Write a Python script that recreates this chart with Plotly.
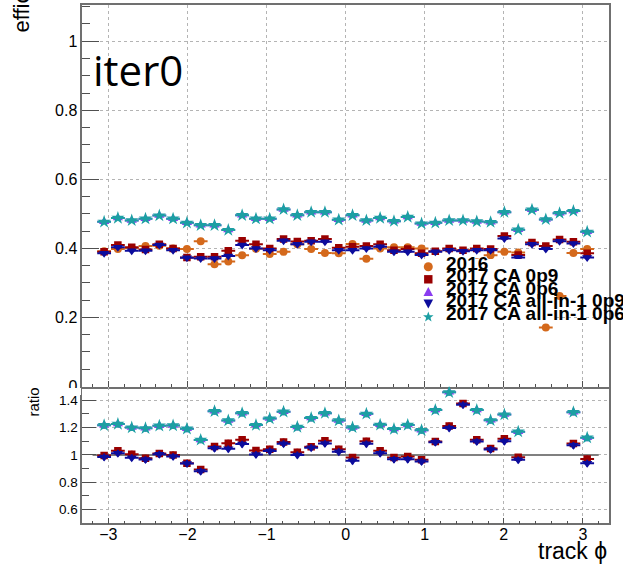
import math
import plotly.graph_objects as go

W, H = 623, 568

# ---------------- data ----------------
phi = [-3.054, -2.880, -2.705, -2.531, -2.356, -2.182, -2.007, -1.833, -1.658,
       -1.484, -1.309, -1.134, -0.960, -0.785, -0.611, -0.436, -0.262, -0.087,
       0.087, 0.262, 0.436, 0.611, 0.785, 0.960, 1.134, 1.309, 1.484, 1.658,
       1.833, 2.007, 2.182, 2.356, 2.531, 2.705, 2.880, 3.054]

eff_2016 = [0.392, 0.398, 0.401, 0.407, 0.408, 0.400, 0.398, 0.421, 0.354,
            0.362, 0.380, 0.399, 0.384, 0.390, 0.412, 0.398, 0.387, 0.386,
            0.413, 0.370, 0.400, 0.403, 0.403, 0.400, 0.357, 0.330, 0.287, 0.360,
            0.380, 0.390, 0.388, 0.250, 0.171, 0.262, 0.387, 0.398]

eff_ca_0p9 = [0.390, 0.410, 0.403, 0.397, 0.412, 0.400, 0.374, 0.376, 0.376,
              0.393, 0.422, 0.412, 0.400, 0.427, 0.420, 0.422, 0.427, 0.402,
              0.405, 0.407, 0.412, 0.395, 0.398, 0.386, 0.392, 0.400, 0.395, 0.400,
              0.398, 0.436, 0.381, 0.417, 0.407, 0.426, 0.419, 0.386]

eff_ca_0p6 = [0.477, 0.488, 0.481, 0.486, 0.495, 0.486, 0.474, 0.467, 0.467,
              0.453, 0.496, 0.486, 0.486, 0.513, 0.496, 0.505, 0.505, 0.483,
              0.496, 0.481, 0.488, 0.479, 0.491, 0.472, 0.474, 0.481, 0.481, 0.478,
              0.476, 0.505, 0.454, 0.512, 0.484, 0.502, 0.508, 0.448]

eff_a1_0p9 = [0.386, 0.403, 0.393, 0.393, 0.410, 0.395, 0.373, 0.371, 0.371,
              0.378, 0.410, 0.400, 0.395, 0.422, 0.412, 0.419, 0.419, 0.395,
              0.395, 0.400, 0.405, 0.390, 0.390, 0.381, 0.390, 0.395, 0.392, 0.395,
              0.395, 0.429, 0.374, 0.412, 0.398, 0.421, 0.414, 0.374]

eff_a1_0p6 = [0.477, 0.488, 0.481, 0.486, 0.495, 0.486, 0.474, 0.467, 0.467,
              0.453, 0.496, 0.486, 0.486, 0.513, 0.496, 0.505, 0.505, 0.483,
              0.496, 0.481, 0.488, 0.479, 0.491, 0.472, 0.474, 0.481, 0.481, 0.478,
              0.476, 0.505, 0.454, 0.512, 0.484, 0.502, 0.508, 0.448]

names = ["2016", "2017 CA 0p9", "2017 CA 0p6", "2017 CA all-in-1 0p9", "2017 CA all-in-1 0p6"]
series = [eff_2016, eff_ca_0p9, eff_ca_0p6, eff_a1_0p9, eff_a1_0p6]
colors = ["#d4691c", "#990000", "#8a3cf0", "#0c0c9c", "#1c9fa3"]
symbols = ["circle", "square", "triangle-up", "triangle-down", "star"]
sizes = [8, 7.5, 9, 9, 10]

half_bin = math.pi / 36

# ---------------- geometry helpers (pixels -> paper) ----------------
def PX(x):
    return x / W

def PY(y):
    return 1 - y / H

x_dom = [PX(82.3), PX(609)]
top_dom = [PY(386.5), PY(5)]
bot_dom = [PY(523.3), PY(386.5)]

fig = go.Figure()

# top panel
for nm, vals, c, s, sz in zip(names, series, colors, symbols, sizes):
    fig.add_trace(go.Scatter(
        x=phi, y=vals, mode="markers", name=nm, showlegend=False,
        marker=dict(symbol=s, size=sz, color=c, line=dict(width=0)),
        error_x=dict(type="constant", value=half_bin, color=c, thickness=2, width=0),
        error_y=dict(type="constant", value=0.006, color=c, thickness=2, width=0),
        xaxis="x", yaxis="y"))

# ratio panel (each 2017 series / 2016)
for nm, vals, c, s, sz in list(zip(names, series, colors, symbols, sizes))[1:]:
    ratio = [v / r for v, r in zip(vals, eff_2016)]
    fig.add_trace(go.Scatter(
        x=phi, y=ratio, mode="markers", name=nm + " ratio", showlegend=False,
        marker=dict(symbol=s, size=sz, color=c, line=dict(width=0)),
        error_x=dict(type="constant", value=half_bin, color=c, thickness=2, width=0),
        error_y=dict(type="constant", value=0.025, color=c, thickness=2, width=0),
        xaxis="x2", yaxis="y2"))

axis_common = dict(showline=True, mirror=True, linecolor="#707070", linewidth=1.5,
                   showgrid=True, gridcolor="#b4b4b4", griddash="dot", gridwidth=1,
                   zeroline=False, ticks="inside", tickcolor="#505050", automargin=False,
                   tickfont=dict(family="Liberation Sans", size=16, color="black"))

fig.update_layout(
    width=W, height=H, margin=dict(l=0, r=0, t=0, b=0, autoexpand=False),
    paper_bgcolor="white", plot_bgcolor="white", showlegend=False,
    xaxis=dict(axis_common, domain=x_dom, range=[-3.33, 3.33], anchor="y",
               dtick=1, tick0=0, ticklen=6, showticklabels=False,
               minor=dict(dtick=0.2, ticklen=3, ticks="inside", tickcolor="#505050", showgrid=False)),
    yaxis=dict(axis_common, domain=top_dom, range=[0, 1.105], anchor="x",
               dtick=0.2, tick0=0, ticklen=17,
               minor=dict(dtick=0.05, ticklen=8, ticks="inside", tickcolor="#505050", showgrid=False)),
    xaxis2=dict(axis_common, domain=x_dom, range=[-3.33, 3.33], anchor="y2",
                dtick=1, tick0=0, ticklen=6, mirror=False, ticklabelstandoff=-4,
                minor=dict(dtick=0.2, ticklen=3, ticks="inside", tickcolor="#505050", showgrid=False)),
    yaxis2=dict(axis_common, domain=bot_dom, range=[0.5, 1.5], anchor="x2",
                dtick=0.2, tick0=0, ticklen=14,
                tickfont=dict(family="Liberation Sans", size=13.5, color="black"),
                minor=dict(dtick=0.1, ticklen=7, ticks="inside", tickcolor="#505050", showgrid=False)),
)

shapes = []
# unity line in ratio panel
shapes.append(dict(type="line", xref="x2", yref="y2", x0=-3.2, x1=3.2, y0=1, y1=1,
                   line=dict(color="#808080", width=2), layer="between"))

# lower pad covers the bottom half of the top pad's "0" label
shapes.append(dict(type="rect", xref="paper", yref="paper",
                   x0=PX(0), x1=PX(81), y0=PY(395), y1=PY(388),
                   fillcolor="white", line=dict(width=0), layer="above"))

# legend box (white fill, no border)
shapes.append(dict(type="rect", xref="paper", yref="paper",
                   x0=PX(424), x1=PX(556), y0=PY(322), y1=PY(259),
                   fillcolor="white", line=dict(width=0), layer="above"))

# legend markers
mx = 428.3
row_marker_y = [266.7, 279.3, 292.0, 303.5, 317.0]
row_text_y = [263.0, 275.6, 288.2, 300.8, 313.4]

def ppath(pts):
    return "M " + " L ".join(f"{PX(a):.5f},{PY(b):.5f}" for a, b in pts) + " Z"

cy = row_marker_y[0]
shapes.append(dict(type="circle", xref="paper", yref="paper",
                   x0=PX(mx - 4.5), x1=PX(mx + 4.5), y0=PY(cy + 4.5), y1=PY(cy - 4.5),
                   fillcolor=colors[0], line=dict(width=0), layer="above"))
cy = row_marker_y[1]
shapes.append(dict(type="rect", xref="paper", yref="paper",
                   x0=PX(mx - 4.2), x1=PX(mx + 4.2), y0=PY(cy + 4.2), y1=PY(cy - 4.2),
                   fillcolor=colors[1], line=dict(width=0), layer="above"))
cy = row_marker_y[2]
shapes.append(dict(type="path", xref="paper", yref="paper",
                   path=ppath([(mx - 4.8, cy + 4), (mx + 4.8, cy + 4), (mx, cy - 5)]),
                   fillcolor=colors[2], line=dict(width=0), layer="above"))
cy = row_marker_y[3]
shapes.append(dict(type="path", xref="paper", yref="paper",
                   path=ppath([(mx - 4.8, cy - 4), (mx + 4.8, cy - 4), (mx, cy + 5)]),
                   fillcolor=colors[3], line=dict(width=0), layer="above"))
cy = row_marker_y[4]
pts = []
for k in range(10):
    r = 5.5 if k % 2 == 0 else 2.3
    a = -math.pi / 2 + k * math.pi / 5
    pts.append((mx + r * math.cos(a), cy + r * math.sin(a)))
shapes.append(dict(type="path", xref="paper", yref="paper", path=ppath(pts),
                   fillcolor=colors[4], line=dict(width=0), layer="above"))

fig.update_layout(shapes=shapes)

annotations = []
for nm, ty in zip(names, row_text_y):
    annotations.append(dict(text=f"<b>{nm}</b>", xref="paper", yref="paper",
                            x=PX(444), y=PY(ty), xanchor="left", yanchor="middle",
                            showarrow=False,
                            font=dict(family="Liberation Sans", size=19, color="black")))

annotations.append(dict(text="iter0", xref="paper", yref="paper",
                        x=PX(91), y=PY(70), xanchor="left", yanchor="middle",
                        showarrow=False,
                        font=dict(family="Open Sans", size=42, color="black")))
annotations.append(dict(text="efficiency", xref="paper", yref="paper",
                        x=PX(21), y=PY(35), xanchor="center", yanchor="bottom",
                        textangle=-90, showarrow=False,
                        font=dict(family="Liberation Sans", size=22, color="black")))
annotations.append(dict(text="ratio", xref="paper", yref="paper",
                        x=PX(33), y=PY(402.5), xanchor="center", yanchor="middle",
                        textangle=-90, showarrow=False,
                        font=dict(family="Liberation Sans", size=15, color="black")))
annotations.append(dict(text="track ϕ", xref="paper", yref="paper",
                        x=PX(609), y=PY(551), xanchor="right", yanchor="middle",
                        showarrow=False,
                        font=dict(family="Liberation Sans", size=23, color="black")))
fig.update_layout(annotations=annotations)

fig.write_html("out.html",
               config={"displayModeBar": False},
               post_script="document.body.style.margin='0px';document.body.style.padding='0px';")
